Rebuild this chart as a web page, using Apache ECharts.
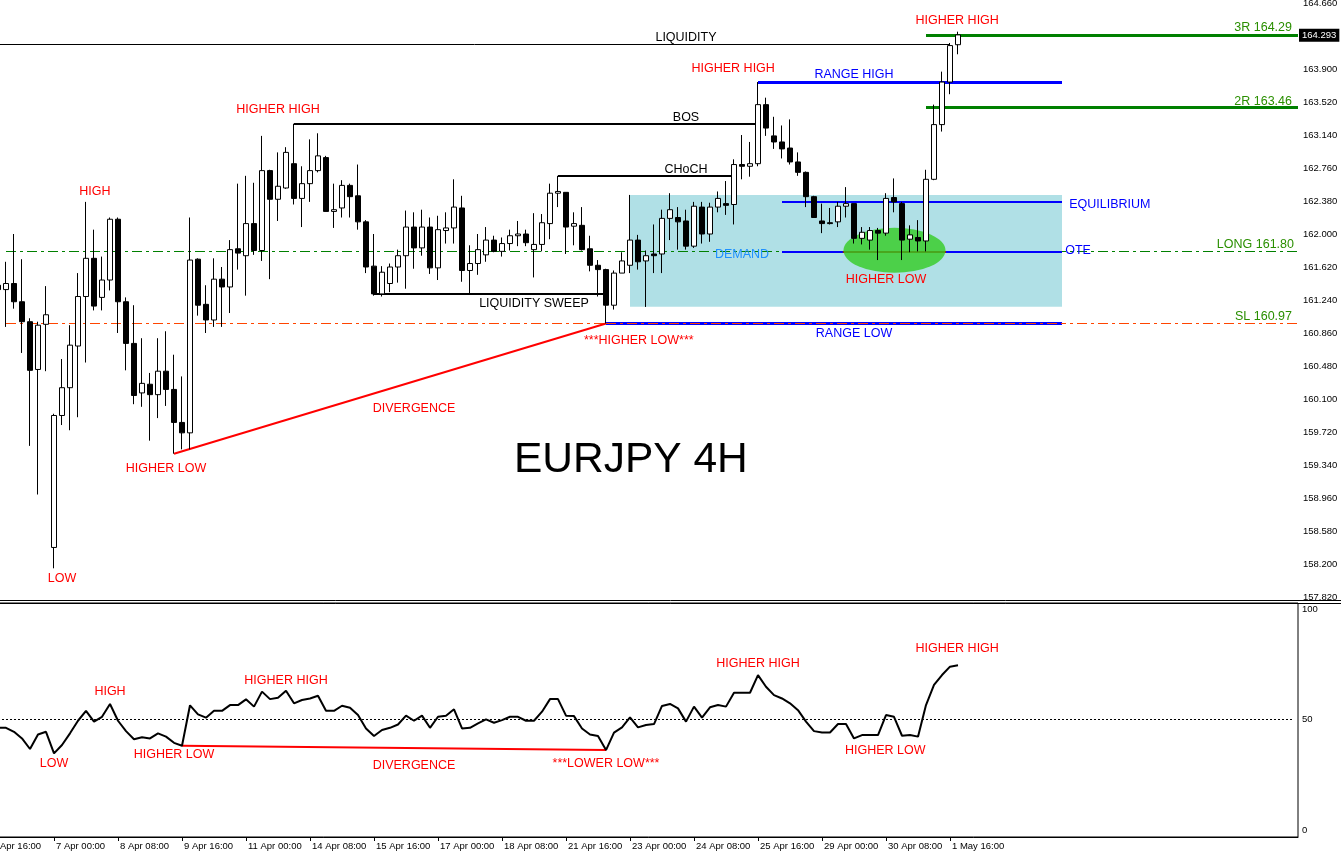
<!DOCTYPE html>
<html><head><meta charset="utf-8">
<script src="https://cdn.jsdelivr.net/npm/echarts@6/dist/echarts.min.js"></script>
<style>html,body{margin:0;padding:0;background:#fff}#c{width:1341px;height:857px}</style>
</head><body><div id="c"></div>
<script>
const FONT = "'Liberation Sans', Arial, sans-serif";

// ---- DATA ----
// 4H bars from 3 Apr 16:00 to 1 May 20:00 : [open, close, low, high]
const ohlc = [
  '-',
  [161.41,161.36,161.20,161.50],
  [161.36,161.43,160.93,161.68],[161.43,161.22,161.14,162.00],[161.22,160.99,160.63,161.71],[160.99,160.43,159.56,161.03],
  [160.44,160.95,159.00,160.99],[160.96,161.07,160.42,161.40],[158.39,159.91,158.15,159.93],[159.91,160.23,159.80,160.56],
  [160.23,160.72,159.74,160.95],[160.71,161.28,159.89,161.55],[161.28,161.72,160.52,162.37],[161.72,161.17,161.12,162.05],
  [161.27,161.47,161.12,161.74],[161.47,162.17,161.35,162.19],[162.17,161.22,160.86,162.19],[161.22,160.74,160.43,161.27],
  [160.74,160.14,160.04,161.18],[160.17,160.28,160.01,160.80],[160.27,160.15,159.62,160.40],[160.15,160.42,159.88,160.80],
  [160.42,160.21,160.02,160.88],[160.21,159.83,159.47,160.61],[159.83,159.71,159.52,160.36],[159.71,161.70,159.52,162.19],
  [161.71,161.18,161.06,161.72],[161.19,161.01,160.86,161.41],[161.01,161.48,160.93,161.72],[161.48,161.39,160.93,161.62],
  [161.39,161.82,161.09,161.93],[161.83,161.78,161.59,162.58],[161.75,162.12,161.29,162.67],[162.12,161.81,161.76,162.59],
  [161.81,162.73,161.69,163.13],[162.73,162.40,161.48,162.74],[162.40,162.55,162.15,162.94],[162.53,162.94,162.52,163.00],
  [162.81,162.41,162.34,163.27],[162.41,162.58,162.08,162.78],[162.58,162.73,162.37,163.09],[162.73,162.90,162.71,163.16],
  [162.88,162.26,162.26,162.90],[162.26,162.28,162.07,162.58],[162.30,162.56,162.19,162.62],[162.56,162.43,162.19,162.58],
  [162.44,162.14,162.05,162.80],[162.14,161.62,161.55,162.16],[161.63,161.31,161.29,162.00],[161.31,161.56,161.28,161.63],
  [161.43,161.62,161.33,161.66],[161.62,161.75,161.44,161.82],[161.75,162.08,161.37,162.27],[162.08,161.84,161.60,162.25],
  [161.84,162.08,161.75,162.28],[162.08,161.61,161.54,162.19],[161.61,162.05,161.47,162.21],[162.04,162.07,161.89,162.25],
  [162.07,162.31,161.89,162.63],[162.30,161.58,161.45,162.44],[161.58,161.66,161.30,161.87],[161.66,161.82,161.53,162.00],
  [161.76,161.93,161.68,162.08],[161.93,161.80,161.79,161.98],[161.80,161.89,161.74,161.96],[161.89,161.98,161.81,162.05],
  [161.98,162.00,161.86,162.15],[162.00,161.90,161.86,162.05],[161.82,161.88,161.50,162.24],[161.88,162.13,161.80,162.23],
  [162.12,162.47,161.94,162.58],[162.47,162.49,162.31,162.67],[162.48,162.08,161.77,162.48],[162.09,162.12,161.87,162.25],
  [162.10,161.82,161.81,162.31],[161.83,161.64,161.57,161.98],[161.64,161.59,161.28,161.70],[161.59,161.18,160.97,161.60],
  [161.18,161.55,161.13,161.58],[161.55,161.69,161.55,161.79],[161.64,161.93,161.55,162.45],[161.93,161.68,161.59,161.99],
  [161.69,161.75,161.16,161.81],[161.77,161.75,161.55,162.11],[161.77,162.18,161.55,162.28],[162.18,162.28,161.93,162.47],
  [162.19,162.14,161.82,162.31],[162.15,161.86,161.82,162.28],[161.86,162.32,161.84,162.37],[162.31,162.00,161.89,162.37],
  [162.00,162.31,161.91,162.36],[162.31,162.41,162.25,162.49],[162.35,162.33,162.22,162.61],[162.34,162.80,162.11,162.86],
  [162.80,162.78,162.63,163.14],[162.78,162.81,162.66,163.06],[162.81,163.49,162.78,163.75],[163.49,163.22,163.13,163.57],
  [163.13,163.06,162.98,163.35],[163.06,162.98,162.87,163.25],[162.99,162.83,162.80,163.32],[162.83,162.71,162.67,162.94],
  [162.71,162.43,162.31,162.72],[162.43,162.19,162.19,162.44],[162.15,162.12,162.01,162.35],[162.13,162.12,162.11,162.30],
  [162.14,162.32,162.08,162.37],[162.32,162.35,162.19,162.54],[162.35,161.95,161.89,162.35],[161.95,162.02,161.88,162.08],
  [161.93,162.04,161.82,162.08],[162.04,162.01,161.70,162.07],[162.01,162.41,161.98,162.47],[162.42,162.37,162.25,162.64],
  [162.35,161.93,161.70,162.37],[161.94,161.99,161.79,162.10],[161.96,161.92,161.80,162.16],[161.92,162.63,161.80,162.74],
  [162.63,163.26,162.62,163.49],[163.26,163.75,163.18,163.87],[163.75,164.17,163.61,164.20],[164.18,164.293,164.07,164.33]
];
// oscillator (lower pane), one value per bar
const osc = [
  46.5,46.3,
  46.3,44.5,41.5,36.7,43.3,44.5,34.7,38.5,43.8,49.5,54.0,49.1,51.3,57.1,49.5,44.8,41.1,42.0,
  41.5,43.8,42.3,39.5,38.2,56.5,52.4,50.9,54.0,54.0,56.6,56.6,59.2,55.9,62.7,59.3,59.9,63.1,57.4,58.9,
  59.6,60.8,54.0,54.0,56.3,55.4,52.1,46.0,42.6,45.3,46.3,47.8,51.8,49.5,51.8,46.3,51.3,51.8,54.7,46.0,
  46.3,48.3,50.1,48.6,49.8,51.3,51.3,49.5,49.5,53.6,59.3,59.3,51.8,51.6,46.0,43.3,42.6,36.2,44.1,46.5,
  51.0,46.5,47.6,48.0,56.2,57.1,55.1,49.1,55.9,50.9,55.6,56.6,55.9,62.2,62.2,62.2,70.2,64.9,61.1,59.6,
  57.4,54.3,49.1,44.8,44.2,44.2,48.0,48.0,41.5,43.0,43.0,43.0,52.1,51.3,42.7,43.0,42.3,56.6,65.7,70.2,
  74.0,74.6
];
const priceTicks = [157.82,158.20,158.58,158.96,159.34,159.72,160.10,160.48,160.86,161.24,161.62,162.00,162.38,162.76,163.14,163.52,163.90,164.66];
const oscTicks = [0,50,100];
const lastPrice = 164.293;
const levels = {liquidity:164.18, bos:163.27, choch:162.67, sweep:161.31, rangeHigh:163.747, equilibrium:162.372, ote:161.80, rangeLow:160.97, r3:164.29, r2:163.46, long:161.80, sl:160.97};
const FUTURE_BARS = 42;

// ---- categories (4H bars, weekdays only) ----
const MONTHS = ['Jan','Feb','Mar','Apr','May','Jun','Jul','Aug','Sep','Oct','Nov','Dec'];
function buildCats(n){
  const out=[]; let t=Date.UTC(2025,3,3,16);
  while(out.length<n){
    const d=new Date(t); const wd=d.getUTCDay();
    if(wd!==0 && wd!==6){
      out.push(d.getUTCDate()+' '+MONTHS[d.getUTCMonth()]+' '+String(d.getUTCHours()).padStart(2,'0')+':00');
    }
    t+=4*3600e3;
  }
  return out;
}
const NB = ohlc.length + FUTURE_BARS;
const cats = buildCats(NB);
const LAST_LABEL = ohlc.length - 2;

// ---- styles ----
const RED='#ff0000', BLUE='#0000ff', BLACK='#000000', GREEN='#008000', GTXT='#2a8f00', DEM='#1e90ff', ORANGE='#ff4500';
const DASHDOT=[10,4,3,4];

function seg(k1,p1,k2,p2,color,width,type){
  return [{coord:[k1,p1], lineStyle:{color:color,width:width,type:type||'solid'}},{coord:[k2,p2]}];
}
function textSeries(xi, yi, items, z){
  return {type:'scatter', xAxisIndex:xi, yAxisIndex:yi, z:z, silent:true, symbol:'circle', symbolSize:1,
    itemStyle:{color:'rgba(0,0,0,0)'}, animation:false,
    data: items.map(t=>({name:t[0], value:[t[1],t[2]], label:{show:true, position:'inside', formatter:'{b}',
      color:t[3], fontSize:t[5]||12.5, fontFamily:FONT, align:t[4]||'center', verticalAlign:'middle',
      textBorderWidth:0, textShadowBlur:0, opacity:1}}))};
}

const mainTexts = [
  ['LIQUIDITY',87,164.257,BLACK],
  ['HIGHER HIGH',36,163.439,RED],
  ['HIGH',13.1,162.484,RED],
  ['LOW',9,158.027,RED],
  ['HIGHER LOW',22,159.294,RED],
  ['DIVERGENCE',53,159.985,RED],
  ['***HIGHER LOW***',81.1,160.768,RED],
  ['LIQUIDITY SWEEP',68,161.194,BLACK],
  ['BOS',87,163.347,BLACK],
  ['CHoCH',87,162.748,BLACK],
  ['HIGHER HIGH',92.9,163.900,RED],
  ['RANGE HIGH',108,163.842,BLUE],
  ['HIGHER HIGH',120.9,164.464,RED],
  ['3R 164.29',162.75,164.372,GTXT,'right'],
  ['2R 163.46',162.75,163.531,GTXT,'right'],
  ['EQUILIBRIUM',134.9,162.345,BLUE,'left'],
  ['OTE',134.4,161.804,BLUE,'left'],
  ['LONG 161.80',163,161.873,GTXT,'right'],
  ['SL 160.97',162.75,161.044,GTXT,'right'],
  ['DEMAND',94,161.758,DEM],
  ['HIGHER LOW',112,161.470,RED],
  ['RANGE LOW',108,160.848,BLUE],
  ['EURJPY 4H',80.1,159.397,BLACK,'center',42.5]
];
const subTexts = [
  ['HIGH',15,62.7,RED],
  ['LOW',8,29.9,RED],
  ['HIGHER LOW',23,34.0,RED],
  ['HIGHER HIGH',37,67.6,RED],
  ['DIVERGENCE',53,29.1,RED],
  ['***LOWER LOW***',77,29.9,RED],
  ['HIGHER HIGH',96,75.5,RED],
  ['HIGHER LOW',111.9,36.2,RED],
  ['HIGHER HIGH',120.9,82.3,RED]
];

const showLabel = (i)=> i%8===0 && i<=LAST_LABEL;
const chart = echarts.init(document.getElementById('c'), null, {renderer:'canvas'});
const option = {
  animation:false,
  backgroundColor:'#ffffff',
  grid:[
    {left:-14, right:43, top:0, height:600, show:false, containLabel:false, outerBoundsMode:'none'},
    {left:-14, right:43, top:603, height:234, show:true, borderColor:'#000', borderWidth:1, backgroundColor:'rgba(0,0,0,0)', containLabel:false, outerBoundsMode:'none'}
  ],
  xAxis:[
    {type:'category', gridIndex:0, data:cats, axisLine:{show:false}, axisTick:{show:false}, axisLabel:{show:false}, splitLine:{show:false}},
    {type:'value', gridIndex:0, min:-0.5, max:NB-0.5, show:false},
    {type:'category', gridIndex:1, data:cats, position:'bottom', axisLine:{show:true, onZero:false, lineStyle:{color:'#000',width:1}},
      axisTick:{show:true, interval:showLabel, alignWithLabel:true, length:4, lineStyle:{color:'#000'}},
      axisLabel:{show:true, interval:showLabel, align:'left', margin:4, padding:[0,0,0,2], color:'#000', fontSize:9.5, fontFamily:FONT},
      splitLine:{show:false}},
    {type:'value', gridIndex:1, min:-0.5, max:NB-0.5, show:false}
  ],
  yAxis:[
    {type:'value', gridIndex:0, position:'right', min:157.785, max:164.695,
      axisLine:{show:true, lineStyle:{color:'#000',width:1}},
      axisTick:{show:true, customValues:priceTicks, length:4, lineStyle:{color:'#000'}},
      axisLabel:{show:true, customValues:priceTicks, formatter:(v)=>Number(v).toFixed(3), margin:5, color:'#000', fontSize:9.5, fontFamily:FONT},
      splitLine:{show:false}},
    {type:'value', gridIndex:1, position:'right', min:-3.17, max:102.85,
      axisLine:{show:true, lineStyle:{color:'#000',width:1}},
      axisTick:{show:false},
      axisLabel:{show:true, customValues:oscTicks, formatter:(v)=>String(Math.round(v)), margin:4, color:'#000', fontSize:9.5, fontFamily:FONT},
      splitLine:{show:false}}
  ],
  graphic:[
    {type:'line', silent:true, shape:{x1:0,y1:600.5,x2:1341,y2:600.5}, style:{stroke:'#000',lineWidth:1}},
    {type:'line', silent:true, shape:{x1:0,y1:603.5,x2:1341,y2:603.5}, style:{stroke:'#000',lineWidth:1}}
  ],
  series:[
    // demand zone
    {type:'scatter', xAxisIndex:1, yAxisIndex:0, z:1, silent:true, symbolSize:0, data:[[-0.4,160]],
      markArea:{silent:true, z:1, itemStyle:{color:'#b0e0e6'}, label:{show:false},
        data:[[{coord:[80,162.449]},{coord:[134,161.163]}]]}},
    // structure lines
    {type:'scatter', xAxisIndex:1, yAxisIndex:0, z:2, silent:true, symbolSize:0, data:[[-0.4,160]],
      markLine:{silent:true, z:2, symbol:['none','none'], label:{show:false}, animation:false,
        data:[
          seg(2,levels.long,NB-0.5,levels.long,GREEN,1,DASHDOT),
          seg(2,levels.sl,NB-0.5,levels.sl,ORANGE,1,DASHDOT),
          seg(0,levels.liquidity,120,levels.liquidity,BLACK,1),
          seg(38,levels.bos,96,levels.bos,BLACK,2),
          seg(71,levels.choch,93,levels.choch,BLACK,2),
          seg(48,levels.sweep,77,levels.sweep,BLACK,2),
          seg(23,159.47,77,160.97,RED,2),
          seg(96,levels.rangeHigh,134,levels.rangeHigh,BLUE,3),
          seg(99,levels.equilibrium,134,levels.equilibrium,BLUE,2),
          seg(99,levels.ote,134,levels.ote,BLUE,2),
          seg(77,levels.rangeLow,134,levels.rangeLow,BLUE,3),
          seg(77,levels.rangeLow,134,levels.rangeLow,ORANGE,1,DASHDOT),
          seg(117,levels.r3,NB-0.5,levels.r3,GREEN,3),
          seg(117,levels.r2,NB-0.5,levels.r2,GREEN,3)
        ]}},
    // ellipse highlight
    {type:'scatter', xAxisIndex:1, yAxisIndex:0, z:3, silent:true, symbol:'circle', symbolSize:[102,45],
      itemStyle:{color:'#33cc22'}, data:[[113.06,161.812]],
      markLine:{silent:true, z:3, symbol:['none','none'], label:{show:false}, animation:false,
        data:[seg(106.6,levels.ote,119.5,levels.ote,'#a01010',2)]}},
    // candles
    {type:'candlestick', xAxisIndex:0, yAxisIndex:0, z:4, data:ohlc, barWidth:5,
      itemStyle:{color:'#ffffff', color0:'#000000', borderColor:'#000000', borderColor0:'#000000', borderWidth:1}},
    // price tag
    {type:'scatter', xAxisIndex:1, yAxisIndex:0, z:7, silent:true, symbolSize:0, data:[[-0.4,160]],
      markLine:{silent:true, z:7, symbol:['none','none'], animation:false,
        data:[{yAxis:lastPrice, lineStyle:{color:'rgba(0,0,0,0)', width:0},
          label:{show:true, position:'end', distance:1, formatter:lastPrice.toFixed(3), backgroundColor:'#000', color:'#fff',
            padding:[2,3,1,3], fontSize:9.5, fontFamily:FONT}}]}},
    textSeries(1,0,mainTexts,6),
    // oscillator
    {type:'line', xAxisIndex:2, yAxisIndex:1, z:4, data:osc, symbol:'none', showSymbol:false,
      lineStyle:{color:'#000', width:2}, itemStyle:{color:'#000'},
      markLine:{silent:true, z:3, symbol:['none','none'], label:{show:false}, animation:false,
        data:[
          [{coord:[0,50], lineStyle:{color:'#000', width:1, type:[2,2]}},{coord:[NB-1,50]}],
          [{coord:[24,38.2], lineStyle:{color:RED, width:2, type:'solid'}},{coord:[77,36.2]}]
        ]}},
    textSeries(3,1,subTexts,6)
  ]
};
chart.setOption(option);
</script>
</body></html>
